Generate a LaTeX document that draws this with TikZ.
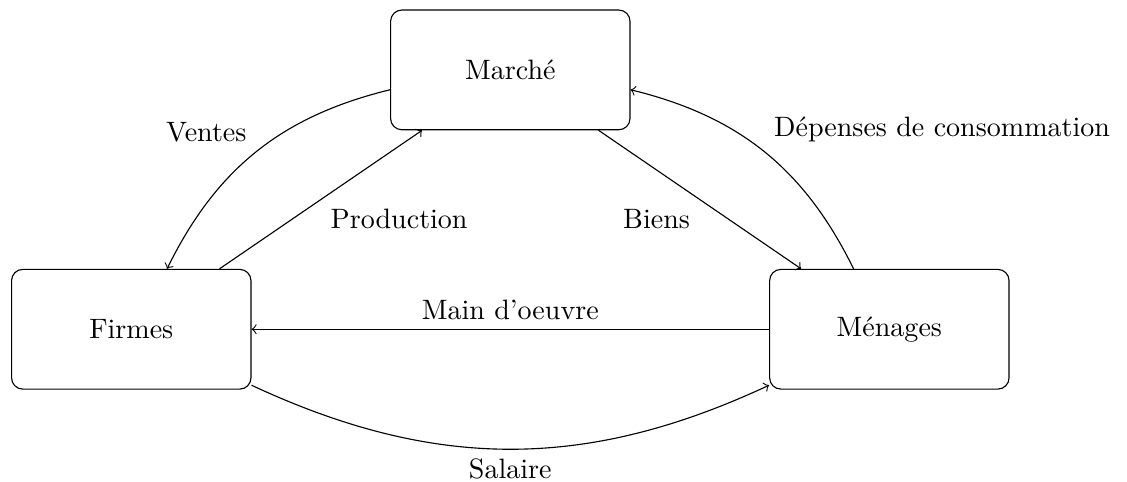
\documentclass[tikz,border=0pt]{standalone}
\usepackage{fontspec}
\begin{document}
\begin{tikzpicture}[
  agent node/.style={rectangle,draw,rounded corners,minimum width=3cm,minimum height=1.5cm}]
  \useasboundingbox (-1.645,-1.902) rectangle (12.478,4.126);

  \node[agent node] (1) at (0,0) {Firmes};
  \node[agent node] (2) at (4.75,3.25) {Marché};
  \node[agent node] (3) at (9.5,0) {Ménages};
  \path[->]
   (2) edge[bend right=25] node[above left]{Ventes} (1)
   (1) edge node[below right]{Production} (2)
   (2) edge node[below left]{Biens} (3)
   (3) edge[bend right=25] node[above right]{Dépenses de consommation} (2)
   (3) edge node[above]{Main d'oeuvre} (1)
   (1) edge[bend right=25] node[below]{Salaire} (3);
\end{tikzpicture}
\end{document}
